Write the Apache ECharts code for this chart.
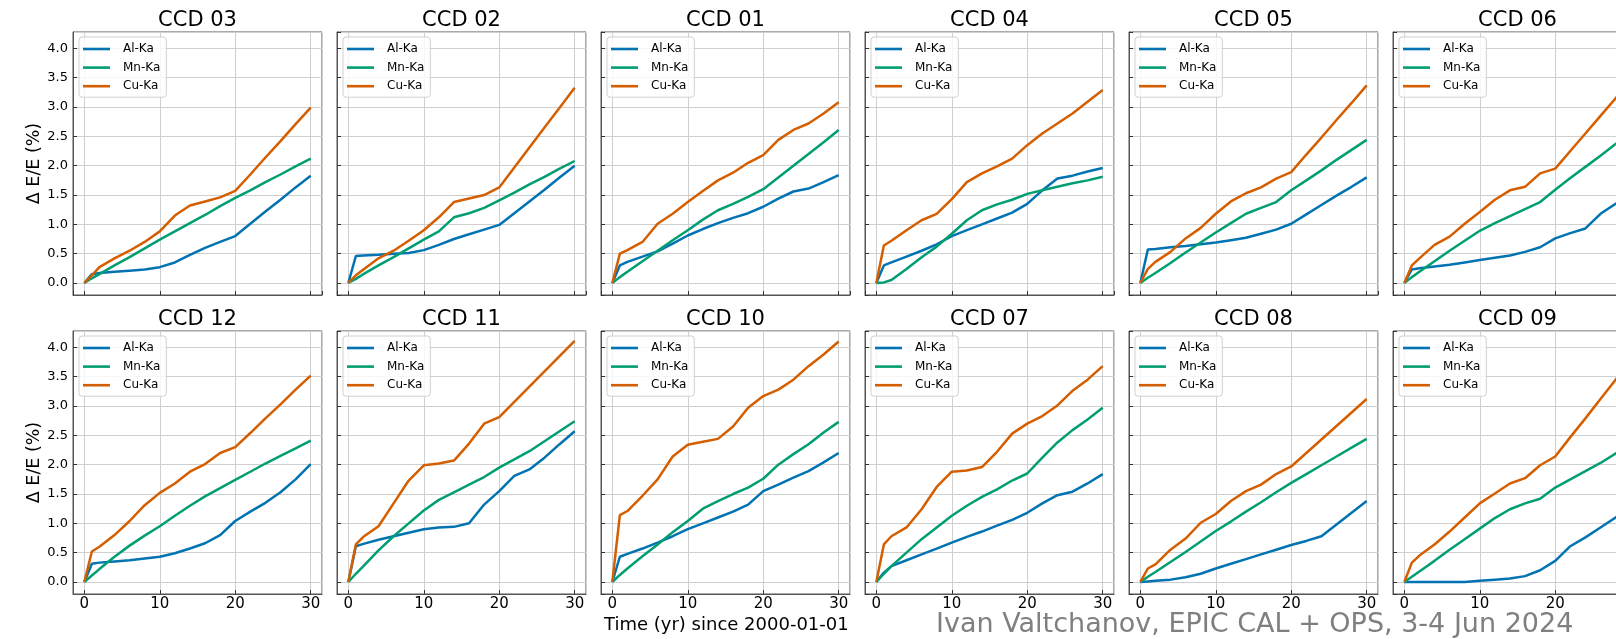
<!DOCTYPE html>
<html>
<head>
<meta charset="utf-8">
<script src="https://cdn.jsdelivr.net/npm/echarts@6/dist/echarts.min.js"></script>
<style>
  html, body { margin: 0; padding: 0; background: #fff; }
  #chart { width: 1616px; height: 639px; }
</style>
</head>
<body>
<div id="chart"></div>
<script>
// sample times (yr since 2000-01-01)
var years = [0, 1, 2, 4, 6, 8, 10, 12, 14, 16, 18, 20, 22, 24, 26, 28, 30]
var lineNames = ['Al-Ka', 'Mn-Ka', 'Cu-Ka']
var xTickLabels = [0, 10, 20, 30]
var yTickLabels = ['0.0', '0.5', '1.0', '1.5', '2.0', '2.5', '3.0', '3.5', '4.0']

// dE/E (%) per CCD and line
var ccd03Al = [0, 0.15, 0.17, 0.19, 0.21, 0.23, 0.27, 0.35, 0.48, 0.60, 0.70, 0.80, 1.01, 1.22, 1.42, 1.63, 1.83]
var ccd03Mn = [0, 0.08, 0.15, 0.30, 0.44, 0.59, 0.74, 0.88, 1.02, 1.16, 1.31, 1.45, 1.58, 1.72, 1.85, 1.99, 2.12]
var ccd03Cu = [0, 0.13, 0.27, 0.42, 0.55, 0.70, 0.88, 1.15, 1.32, 1.39, 1.46, 1.57, 1.85, 2.14, 2.42, 2.71, 2.99]

var ccd02Al = [0, 0.46, 0.47, 0.48, 0.50, 0.51, 0.56, 0.65, 0.75, 0.83, 0.91, 0.99, 1.19, 1.39, 1.59, 1.80, 2.00]
var ccd02Mn = [0, 0.07, 0.15, 0.30, 0.44, 0.59, 0.74, 0.88, 1.12, 1.19, 1.28, 1.41, 1.54, 1.68, 1.81, 1.95, 2.08]
var ccd02Cu = [0, 0.13, 0.23, 0.42, 0.55, 0.72, 0.90, 1.12, 1.38, 1.44, 1.50, 1.63, 1.97, 2.31, 2.65, 2.99, 3.33]

var ccd01Al = [0, 0.30, 0.36, 0.45, 0.54, 0.67, 0.81, 0.92, 1.02, 1.11, 1.19, 1.30, 1.44, 1.56, 1.61, 1.72, 1.84]
var ccd01Mn = [0, 0.10, 0.19, 0.37, 0.55, 0.73, 0.90, 1.08, 1.24, 1.35, 1.47, 1.60, 1.80, 2.00, 2.20, 2.40, 2.61]
var ccd01Cu = [0, 0.50, 0.56, 0.70, 1.01, 1.18, 1.38, 1.57, 1.75, 1.88, 2.05, 2.18, 2.44, 2.61, 2.72, 2.89, 3.08]

var ccd04Al = [0, 0.30, 0.35, 0.45, 0.55, 0.66, 0.80, 0.90, 1.00, 1.10, 1.20, 1.35, 1.58, 1.78, 1.83, 1.90, 1.96]
var ccd04Mn = [0, 0.01, 0.05, 0.24, 0.44, 0.62, 0.84, 1.07, 1.24, 1.34, 1.42, 1.52, 1.58, 1.64, 1.70, 1.75, 1.81]
var ccd04Cu = [0, 0.64, 0.72, 0.90, 1.07, 1.18, 1.43, 1.72, 1.87, 1.99, 2.12, 2.35, 2.55, 2.72, 2.89, 3.09, 3.29]

var ccd05Al = [0, 0.57, 0.58, 0.61, 0.63, 0.66, 0.69, 0.73, 0.77, 0.84, 0.91, 1.01, 1.17, 1.33, 1.49, 1.64, 1.80]
var ccd05Mn = [0, 0.09, 0.17, 0.34, 0.52, 0.69, 0.86, 1.02, 1.18, 1.28, 1.38, 1.58, 1.75, 1.92, 2.10, 2.27, 2.44]
var ccd05Cu = [0, 0.24, 0.36, 0.53, 0.76, 0.94, 1.18, 1.39, 1.53, 1.63, 1.78, 1.89, 2.19, 2.48, 2.78, 3.07, 3.37]

var ccd06Al = [0, 0.23, 0.25, 0.28, 0.31, 0.35, 0.39, 0.43, 0.47, 0.53, 0.61, 0.76, 0.85, 0.93, 1.18, 1.35, 1.50]
var ccd06Mn = [0, 0.10, 0.19, 0.37, 0.55, 0.72, 0.89, 1.02, 1.14, 1.26, 1.38, 1.59, 1.79, 1.98, 2.17, 2.37, 2.55]
var ccd06Cu = [0, 0.30, 0.42, 0.65, 0.79, 1.01, 1.21, 1.42, 1.58, 1.64, 1.87, 1.95, 2.25, 2.55, 2.85, 3.15, 3.45]

var ccd12Al = [0, 0.31, 0.33, 0.35, 0.37, 0.40, 0.43, 0.49, 0.57, 0.66, 0.80, 1.04, 1.20, 1.35, 1.53, 1.75, 2.01]
var ccd12Mn = [0, 0.11, 0.22, 0.43, 0.62, 0.79, 0.95, 1.13, 1.30, 1.46, 1.60, 1.74, 1.88, 2.02, 2.15, 2.28, 2.41]
var ccd12Cu = [0, 0.52, 0.60, 0.80, 1.04, 1.31, 1.52, 1.68, 1.88, 2.01, 2.20, 2.30, 2.54, 2.79, 3.03, 3.28, 3.52]

var ccd11Al = [0, 0.61, 0.65, 0.72, 0.78, 0.84, 0.90, 0.93, 0.94, 1.00, 1.32, 1.55, 1.81, 1.92, 2.12, 2.35, 2.57]
var ccd11Mn = [0, 0.14, 0.27, 0.54, 0.78, 1.00, 1.22, 1.40, 1.53, 1.66, 1.79, 1.95, 2.09, 2.23, 2.40, 2.57, 2.74]
var ccd11Cu = [0, 0.64, 0.77, 0.95, 1.34, 1.73, 1.99, 2.02, 2.07, 2.36, 2.70, 2.81, 3.07, 3.33, 3.59, 3.85, 4.11]

var ccd10Al = [0, 0.43, 0.48, 0.57, 0.67, 0.78, 0.90, 1.00, 1.10, 1.20, 1.32, 1.55, 1.66, 1.78, 1.89, 2.04, 2.20]
var ccd10Mn = [0, 0.12, 0.23, 0.44, 0.64, 0.85, 1.04, 1.25, 1.38, 1.50, 1.61, 1.76, 2.00, 2.18, 2.35, 2.55, 2.73]
var ccd10Cu = [0, 1.14, 1.21, 1.47, 1.75, 2.14, 2.34, 2.39, 2.44, 2.65, 2.97, 3.17, 3.28, 3.45, 3.68, 3.88, 4.10]

var ccd07Al = [0, 0.16, 0.27, 0.37, 0.47, 0.57, 0.67, 0.77, 0.86, 0.96, 1.06, 1.18, 1.34, 1.48, 1.54, 1.68, 1.84]
var ccd07Mn = [0, 0.14, 0.27, 0.50, 0.73, 0.93, 1.13, 1.30, 1.45, 1.58, 1.73, 1.85, 2.12, 2.38, 2.59, 2.77, 2.97]
var ccd07Cu = [0, 0.64, 0.78, 0.93, 1.24, 1.62, 1.88, 1.90, 1.96, 2.22, 2.53, 2.70, 2.83, 3.01, 3.26, 3.45, 3.68]

var ccd08Al = [0, 0.01, 0.02, 0.04, 0.08, 0.14, 0.23, 0.31, 0.39, 0.47, 0.55, 0.63, 0.70, 0.78, 0.98, 1.18, 1.38]
var ccd08Mn = [0, 0.09, 0.17, 0.34, 0.51, 0.69, 0.87, 1.03, 1.20, 1.36, 1.53, 1.69, 1.84, 1.99, 2.14, 2.29, 2.44]
var ccd08Cu = [0, 0.23, 0.30, 0.55, 0.74, 1.01, 1.16, 1.38, 1.55, 1.66, 1.84, 1.97, 2.20, 2.43, 2.66, 2.89, 3.12]

var ccd09Al = [0, 0, 0, 0, 0, 0, 0.02, 0.04, 0.06, 0.10, 0.20, 0.36, 0.61, 0.76, 0.93, 1.10, 1.28]
var ccd09Mn = [0, 0.09, 0.18, 0.36, 0.55, 0.73, 0.91, 1.09, 1.24, 1.34, 1.42, 1.61, 1.75, 1.89, 2.03, 2.19, 2.34]
var ccd09Cu = [0, 0.33, 0.45, 0.64, 0.86, 1.10, 1.34, 1.51, 1.68, 1.77, 1.99, 2.14, 2.47, 2.79, 3.12, 3.45, 3.78]

var panels = [
  ['CCD 03', ccd03Al, ccd03Mn, ccd03Cu],
  ['CCD 02', ccd02Al, ccd02Mn, ccd02Cu],
  ['CCD 01', ccd01Al, ccd01Mn, ccd01Cu],
  ['CCD 04', ccd04Al, ccd04Mn, ccd04Cu],
  ['CCD 05', ccd05Al, ccd05Mn, ccd05Cu],
  ['CCD 06', ccd06Al, ccd06Mn, ccd06Cu],
  ['CCD 12', ccd12Al, ccd12Mn, ccd12Cu],
  ['CCD 11', ccd11Al, ccd11Mn, ccd11Cu],
  ['CCD 10', ccd10Al, ccd10Mn, ccd10Cu],
  ['CCD 07', ccd07Al, ccd07Mn, ccd07Cu],
  ['CCD 08', ccd08Al, ccd08Mn, ccd08Cu],
  ['CCD 09', ccd09Al, ccd09Mn, ccd09Cu]
]

var colors = ['#0173b2', '#029e73', '#d55e00']
var font = 'DejaVu Sans'
var gridW = 249, gridH = 263, pitch = 264
var rowTop = [32, 331]

var myChart = echarts.init(document.getElementById('chart'))

var grid = [], xAxis = [], yAxis = [], series = [], legend = [], title = []

panels.forEach(function (p, i) {
  var row = Math.floor(i / 6), col = i % 6
  var left = 73 + col * pitch, top = rowTop[row]

  grid.push({
    left: left, top: top, width: gridW, height: gridH,
    show: true, borderColor: '#555', borderWidth: 1, backgroundColor: '#fff',
    outerBoundsMode: 'none', containLabel: false
  })

  xAxis.push({
    gridIndex: i, type: 'value', min: -1.5, max: 31.5, splitNumber: 3,
    axisLine: { show: true, onZero: false, lineStyle: { color: '#555' } },
    axisTick: { show: true, inside: true, length: 4, lineStyle: { color: '#333' } },
    axisLabel: {
      show: row === 1, margin: 3, fontSize: 15, fontFamily: font, color: '#000',
      showMinLabel: false, showMaxLabel: false,
      formatter: function (v) { return xTickLabels.indexOf(v) >= 0 ? String(v) : '' }
    },
    splitLine: { show: true, lineStyle: { color: '#cfcfcf', width: 1 } }
  })

  yAxis.push({
    gridIndex: i, type: 'value', min: -0.205, max: 4.28, splitNumber: 9,
    name: col === 0 ? 'Δ E/E (%)' : '', nameLocation: 'middle', nameGap: 30, nameRotate: 90,
    nameTextStyle: { fontSize: 17.5, fontFamily: font, color: '#000' },
    axisLine: { show: true, onZero: false, lineStyle: { color: '#555' } },
    axisTick: { show: true, inside: true, length: 4, lineStyle: { color: '#333' } },
    axisLabel: {
      show: col === 0, margin: 5, fontSize: 13, fontFamily: font, color: '#000',
      showMinLabel: false, showMaxLabel: false,
      formatter: function (v) {
        var s = v.toFixed(1)
        return (Math.abs(v * 2 - Math.round(v * 2)) < 1e-6 && yTickLabels.indexOf(s) >= 0) ? s : ''
      }
    },
    splitLine: { show: true, lineStyle: { color: '#cfcfcf', width: 1 } }
  })

  title.push({
    text: p[0], left: left + gridW / 2, top: top - 22, textAlign: 'center', padding: 0,
    textStyle: { fontSize: 21, fontWeight: 'normal', fontFamily: font, color: '#000' }
  })

  legend.push({
    orient: 'vertical', left: left + 6, top: top + 5,
    icon: 'rect', itemWidth: 27, itemHeight: 2.6, itemGap: 6.6, padding: [6, 6, 5, 4],
    backgroundColor: 'rgba(255,255,255,0.8)', borderColor: '#d0d0d0', borderWidth: 1, borderRadius: 3,
    selectedMode: false,
    formatter: function (n) { return '{t|' + n + '}' },
    textStyle: {
      fontSize: 12, fontFamily: font, color: '#000',
      rich: { t: { fontSize: 12, fontFamily: font, color: '#000', lineHeight: 14, padding: [0, 0, 0, 8] } }
    },
    data: lineNames
  })

  for (var k = 0; k < 3; k++) {
    var vals = p[k + 1]
    series.push({
      type: 'line', name: lineNames[k], xAxisIndex: i, yAxisIndex: i,
      symbol: 'none', smooth: false, z: 2 + k,
      lineStyle: { width: 2.5, color: colors[k] },
      itemStyle: { color: colors[k] },
      data: years.map(function (x, j) { return [x, vals[j]] })
    })
  }
})

var option = {
  animation: false,
  backgroundColor: '#fff',
  title: title,
  legend: legend,
  grid: grid,
  xAxis: xAxis,
  yAxis: yAxis,
  series: series,
  graphic: [
    {
      type: 'text', left: 604, top: 616,
      style: { text: 'Time (yr) since 2000-01-01', fontSize: 18, fontFamily: font, fill: '#000' }
    },
    {
      type: 'text', left: 936, top: 611,
      style: { text: 'Ivan Valtchanov, EPIC CAL + OPS, 3-4 Jun 2024', fontSize: 27, fontFamily: font, fill: '#7f7f7f' }
    }
  ]
}
myChart.setOption(option)
</script>
</body>
</html>
